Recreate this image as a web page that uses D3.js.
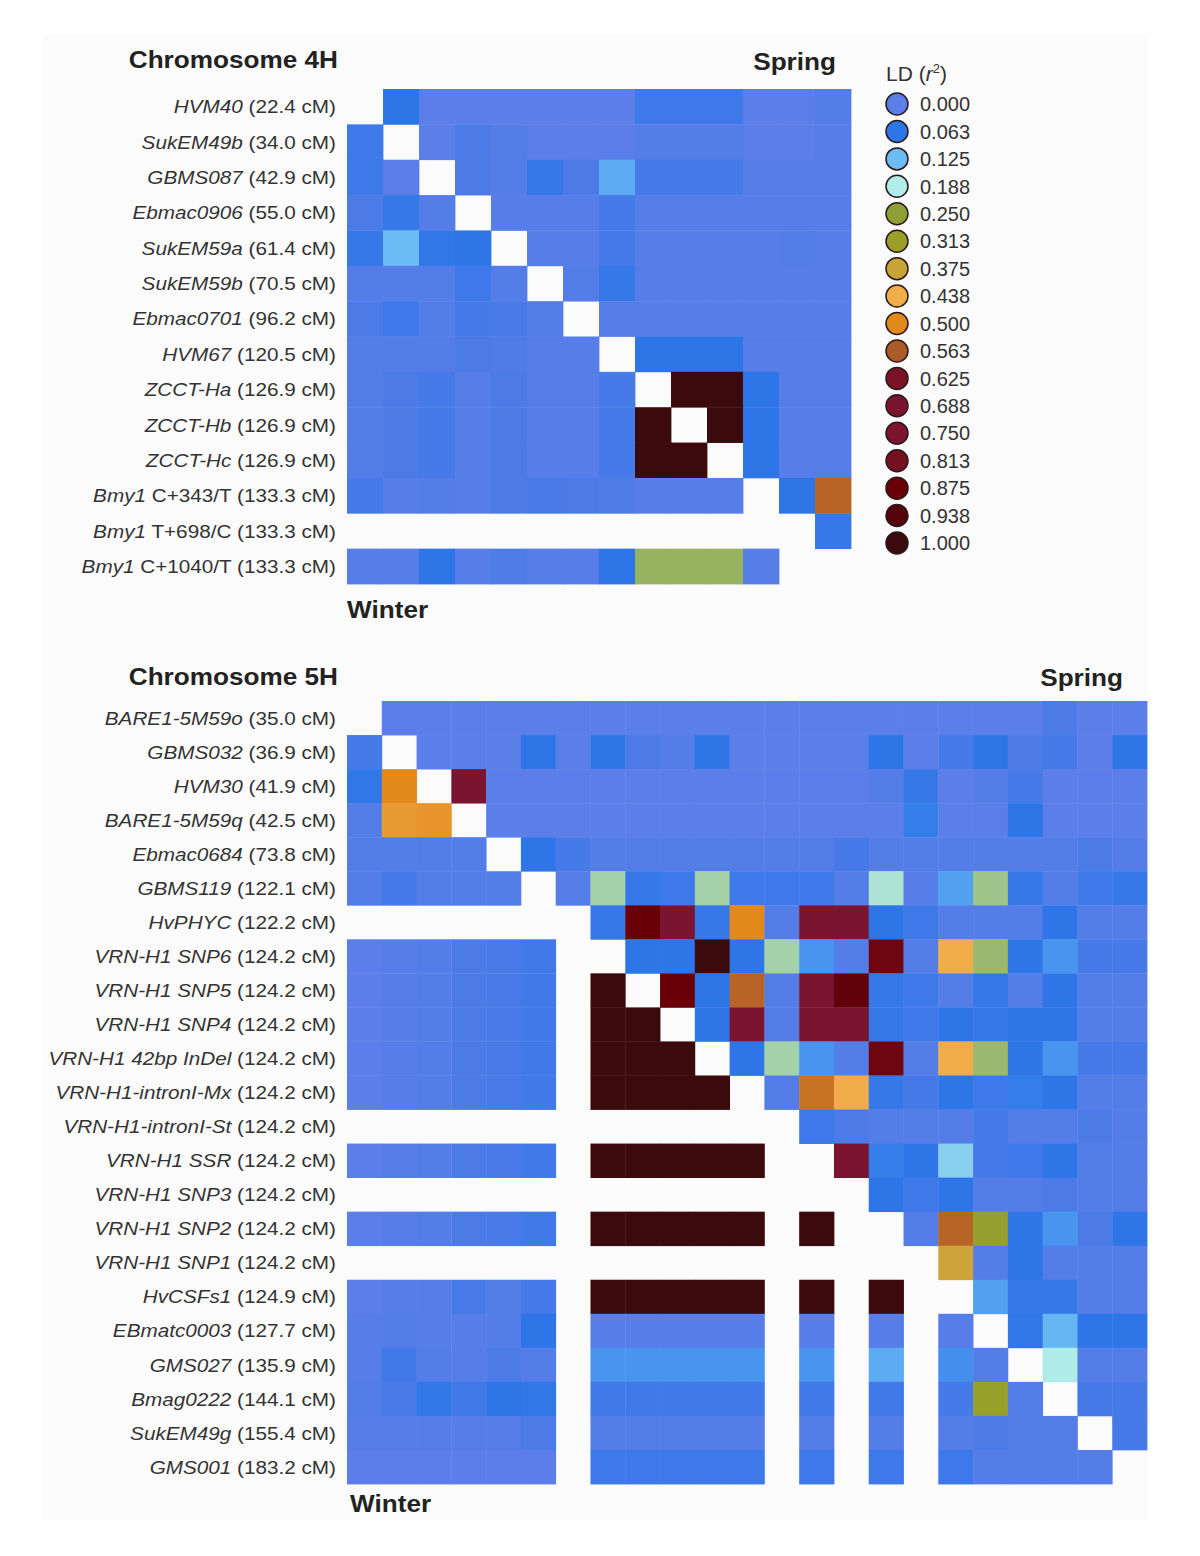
<!DOCTYPE html>
<html>
<head>
<meta charset="utf-8">
<script src="https://cdn.jsdelivr.net/npm/d3@7"></script>
<style>
  body { margin: 0; background: #fff; }
  svg { display: block; font-family: "Liberation Sans", Arial, sans-serif; }
</style>
</head>
<body>
<div id="chart"></div>
<script>
// LD colour key (legend stops and their colours)
const ldStops = [0, 0.063, 0.125, 0.188, 0.25, 0.313, 0.375, 0.438, 0.5, 0.563, 0.625, 0.688, 0.75, 0.813, 0.875, 0.938, 1];
const ldColors = ["#5b7ee8", "#2c76e8", "#6cbcf5", "#b2ede8", "#8e9f35", "#9a9f2a", "#c9a338", "#f0ad4a",
                  "#e2891c", "#ac5a28", "#7a1228", "#7a1430", "#7c1430", "#74101f", "#690008", "#56040c", "#3a0a0c"];

// markers: [italic name, plain suffix, position cM]
const markers4H = [
  ["HVM40", "", 22.4], ["SukEM49b", "", 34.0], ["GBMS087", "", 42.9], ["Ebmac0906", "", 55.0],
  ["SukEM59a", "", 61.4], ["SukEM59b", "", 70.5], ["Ebmac0701", "", 96.2], ["HVM67", "", 120.5],
  ["ZCCT-Ha", "", 126.9], ["ZCCT-Hb", "", 126.9], ["ZCCT-Hc", "", 126.9],
  ["Bmy1", "C+343/T", 133.3], ["Bmy1", "T+698/C", 133.3], ["Bmy1", "C+1040/T", 133.3]
];

// r2 matrix, upper triangle = spring, lower triangle = winter, null = not polymorphic / diagonal
const ld4H = [
  [null, .06, 0, 0, 0, 0, 0, 0, .04, .04, .04, 0, 0, .01],
  [.04, null, 0, .02, .01, 0, 0, 0, .01, .01, .01, 0, 0, .005],
  [.04, 0, null, .02, .01, .05, .02, .11, .03, .03, .03, .005, .005, .005],
  [.02, .05, .01, null, .005, .005, .005, .03, .005, .005, .005, .005, .005, .005],
  [.05, .125, .055, .06, null, .005, .005, .03, .005, .005, .005, .005, .01, .005],
  [.01, .01, .01, .04, .01, null, .01, .05, .005, .005, .005, .005, .005, .005],
  [.02, .04, .01, .03, .025, .01, null, .005, .005, .005, .005, .005, .005, .005],
  [.01, .01, .01, .02, .015, .005, .005, null, .06, .06, .06, .005, .005, .005],
  [.01, .02, .03, .005, .02, .005, .005, .03, null, 1, 1, .06, .005, .005],
  [.01, .02, .03, .005, .02, .005, .005, .03, 1, null, 1, .06, .005, .005],
  [.01, .02, .03, .005, .02, .005, .005, .03, 1, 1, null, .06, .005, .005],
  [.03, .005, .01, .005, .02, .025, .02, .015, .005, .005, .005, null, .06, .55],
  [null, null, null, null, null, null, null, null, null, null, null, null, null, .05],
  [.005, .005, .06, .005, .015, .005, .005, .06, .235, .235, .235, .005, null, null]
];

const markers5H = [
  ["BARE1-5M59o", "", 35.0], ["GBMS032", "", 36.9], ["HVM30", "", 41.9], ["BARE1-5M59q", "", 42.5],
  ["Ebmac0684", "", 73.8], ["GBMS119", "", 122.1], ["HvPHYC", "", 122.2], ["VRN-H1 SNP6", "", 124.2],
  ["VRN-H1 SNP5", "", 124.2], ["VRN-H1 SNP4", "", 124.2], ["VRN-H1 42bp InDel", "", 124.2],
  ["VRN-H1-intronI-Mx", "", 124.2], ["VRN-H1-intronI-St", "", 124.2], ["VRN-H1 SSR", "", 124.2],
  ["VRN-H1 SNP3", "", 124.2], ["VRN-H1 SNP2", "", 124.2], ["VRN-H1 SNP1", "", 124.2],
  ["HvCSFs1", "", 124.9], ["EBmatc0003", "", 127.7], ["GMS027", "", 135.9], ["Bmag0222", "", 144.1],
  ["SukEM49g", "", 155.4], ["GMS001", "", 183.2]
];

const N = null;
const ld5H = [
  [N, 0, 0, 0, 0, 0, 0, 0, 0, 0, 0, 0, 0, 0, 0, 0, 0, 0, 0, 0, .02, 0, 0],
  [.03, N, 0, 0, 0, .06, 0, .06, .02, .01, .06, 0, 0, 0, 0, .06, 0, .03, .06, .02, .03, 0, .06],
  [.055, .5, N, .69, 0, 0, 0, 0, 0, 0, 0, 0, 0, 0, 0, .01, .05, 0, .01, .03, 0, 0, 0],
  [.01, .47, .48, N, 0, 0, 0, 0, 0, 0, 0, 0, 0, 0, 0, 0, .07, 0, 0, .06, 0, 0, 0],
  [.01, .01, .01, .01, N, .06, .03, .01, .01, .01, .01, .01, .01, .01, .03, .01, .01, .01, .01, .01, .01, .02, .01],
  [.01, .03, .01, .01, .01, N, .005, .21, .05, .04, .21, .04, .04, .04, .01, .195, .005, .10, .22, .05, .01, .04, .05],
  [N, N, N, N, N, N, N, .05, .875, .7, .05, .5, .01, .7, .7, .06, .04, .01, .01, .01, .06, .01, .01],
  [0, .005, .01, .02, .025, .035, N, N, .06, .06, 1, .06, .21, .09, .01, .85, .01, .44, .23, .06, .09, .03, .03],
  [0, .005, .01, .02, .025, .035, N, 1, N, .875, .06, .55, .01, .72, .9, .05, .04, .01, .05, .01, .06, .01, .01],
  [0, .005, .01, .02, .025, .035, N, 1, 1, N, .06, .7, .01, .7, .7, .05, .04, .06, .05, .06, .06, .01, .01],
  [0, .005, .01, .02, .025, .035, N, 1, 1, 1, N, .06, .21, .09, .01, .85, .01, .44, .23, .06, .09, .03, .03],
  [0, .005, .01, .02, .025, .035, N, 1, 1, 1, 1, N, .01, .53, .44, .05, .03, .06, .04, .07, .06, .01, .01],
  [N, N, N, N, N, N, N, N, N, N, N, N, N, .04, .02, .01, .01, .01, .03, .01, .01, .02, .01],
  [0, .005, .01, .02, .025, .035, N, 1, 1, 1, 1, 1, N, N, .7, .07, .06, .15, .03, .04, .06, .01, .01],
  [N, N, N, N, N, N, N, N, N, N, N, N, N, N, N, .06, .04, .06, .01, .01, .02, .01, .01],
  [0, .005, .01, .02, .025, .035, N, 1, 1, 1, 1, 1, N, 1, N, N, .01, .55, .28, .06, .09, .02, .06],
  [N, N, N, N, N, N, N, N, N, N, N, N, N, N, N, N, N, .38, .01, .06, .01, .01, .01],
  [0, .005, .005, .025, .01, .03, N, 1, 1, 1, 1, 1, N, 1, N, 1, N, N, .10, .05, .05, .01, .01],
  [.005, .01, .005, .005, .01, .06, N, .005, .005, .005, .005, .005, N, .005, N, .005, N, .005, N, .055, .12, .06, .06],
  [.005, .035, .01, .005, .02, .01, N, .09, .09, .09, .09, .09, N, .09, N, .11, N, .085, .01, N, .185, .01, .01],
  [.01, .025, .055, .035, .06, .055, N, .035, .035, .035, .035, .035, N, .035, N, .035, N, .03, .31, .01, N, .03, .03],
  [.005, .005, .005, .005, .005, .02, N, .01, .01, .01, .01, .01, N, .01, N, .01, N, .01, .02, .01, .01, N, .03],
  [0, 0, 0, 0, 0, 0, N, .04, .04, .04, .04, .04, N, .04, N, .04, N, .04, .01, .01, .01, .01, N]
];

const legendLabels = ["0.000", "0.063", "0.125", "0.188", "0.250", "0.313", "0.375", "0.438", "0.500",
                      "0.563", "0.625", "0.688", "0.750", "0.813", "0.875", "0.938", "1.000"];

const width = 1200, height = 1556;
const stretch = 1.09; // text in the figure is slightly wide

const color = d3.scaleLinear()
  .domain(ldStops)
  .range(ldColors)
  .interpolate(d3.interpolateRgb)
  .clamp(true);

const svg = d3.select("#chart").append("svg")
  .attr("width", width)
  .attr("height", height);

// faint panel behind the figure
svg.append("rect")
  .attr("x", 43).attr("y", 35)
  .attr("width", 1105).attr("height", 1485)
  .attr("fill", "#fbfbfb");

function drawPanel(cfg) {
  const idx = d3.range(cfg.markers.length);
  const x = d3.scaleBand().domain(idx).range([cfg.left, cfg.left + cfg.w]);
  const y = d3.scaleBand().domain(idx).range([cfg.top, cfg.top + cfg.h]);

  const cells = [];
  cfg.matrix.forEach((row, i) => row.forEach((v, j) => {
    if (v !== null) cells.push({ i, j, v });
  }));

  const g = svg.append("g");

  g.selectAll("rect.cell")
    .data(cells)
    .enter()
    .append("rect")
    .attr("class", "cell")
    .attr("x", d => x(d.j))
    .attr("y", d => y(d.i))
    .attr("width", x.bandwidth() + 0.4)
    .attr("height", y.bandwidth() + 0.4)
    .attr("fill", d => color(d.v));

  // marker labels
  const lab = g.selectAll("text.marker")
    .data(cfg.markers)
    .enter()
    .append("text")
    .attr("class", "marker")
    .attr("transform", (d, i) => `translate(${cfg.left - 11},${y(i) + y.bandwidth() / 2}) scale(${stretch},1)`)
    .attr("dy", "0.35em")
    .attr("text-anchor", "end")
    .attr("font-size", 19)
    .attr("fill", "#333");
  lab.append("tspan").attr("font-style", "italic").text(d => d[0]);
  lab.append("tspan").text(d => (d[1] ? " " + d[1] : "") + " (" + d[2].toFixed(1) + " cM)");

  const bold = (tx, ty, anchor, txt) => g.append("text")
    .attr("transform", `translate(${tx},${ty}) scale(${stretch},1)`)
    .attr("text-anchor", anchor)
    .attr("font-size", 24)
    .attr("font-weight", "bold")
    .attr("fill", "#222")
    .text(txt);

  bold(cfg.left - 9, cfg.titleY, "end", cfg.title);
  bold(cfg.springX, cfg.springY, "end", "Spring");
  bold(cfg.left + cfg.winterDx, cfg.top + cfg.h + cfg.winterDy, "start", "Winter");
}

drawPanel({
  markers: markers4H, matrix: ld4H, title: "Chromosome 4H",
  left: 347, top: 89, w: 504, h: 495,
  titleY: 68, springX: 836, springY: 70, winterDx: 0, winterDy: 34
});

drawPanel({
  markers: markers5H, matrix: ld5H, title: "Chromosome 5H",
  left: 347, top: 701, w: 800, h: 783,
  titleY: 685, springX: 1123, springY: 686, winterDx: 3, winterDy: 28
});

// legend
const legend = svg.append("g");
const ly = d3.scalePoint().domain(legendLabels).range([104, 543]);

const ldTitle = legend.append("text")
  .attr("x", 886).attr("y", 81)
  .attr("font-size", 21)
  .attr("fill", "#333");
ldTitle.append("tspan").text("LD (");
ldTitle.append("tspan").attr("font-style", "italic").text("r");
ldTitle.append("tspan").attr("font-size", 13).attr("dy", -8).text("2");
ldTitle.append("tspan").attr("dy", 8).text(")");

legend.selectAll("circle")
  .data(legendLabels)
  .enter()
  .append("circle")
  .attr("cx", 897)
  .attr("cy", d => ly(d))
  .attr("r", 11)
  .attr("fill", (d, i) => color(ldStops[i]))
  .attr("stroke", "#2a1a1a")
  .attr("stroke-width", 1.5);

legend.selectAll("text.lab")
  .data(legendLabels)
  .enter()
  .append("text")
  .attr("class", "lab")
  .attr("x", 920)
  .attr("y", d => ly(d))
  .attr("dy", "0.36em")
  .attr("font-size", 20)
  .attr("fill", "#333")
  .text(d => d);
</script>
</body>
</html>
